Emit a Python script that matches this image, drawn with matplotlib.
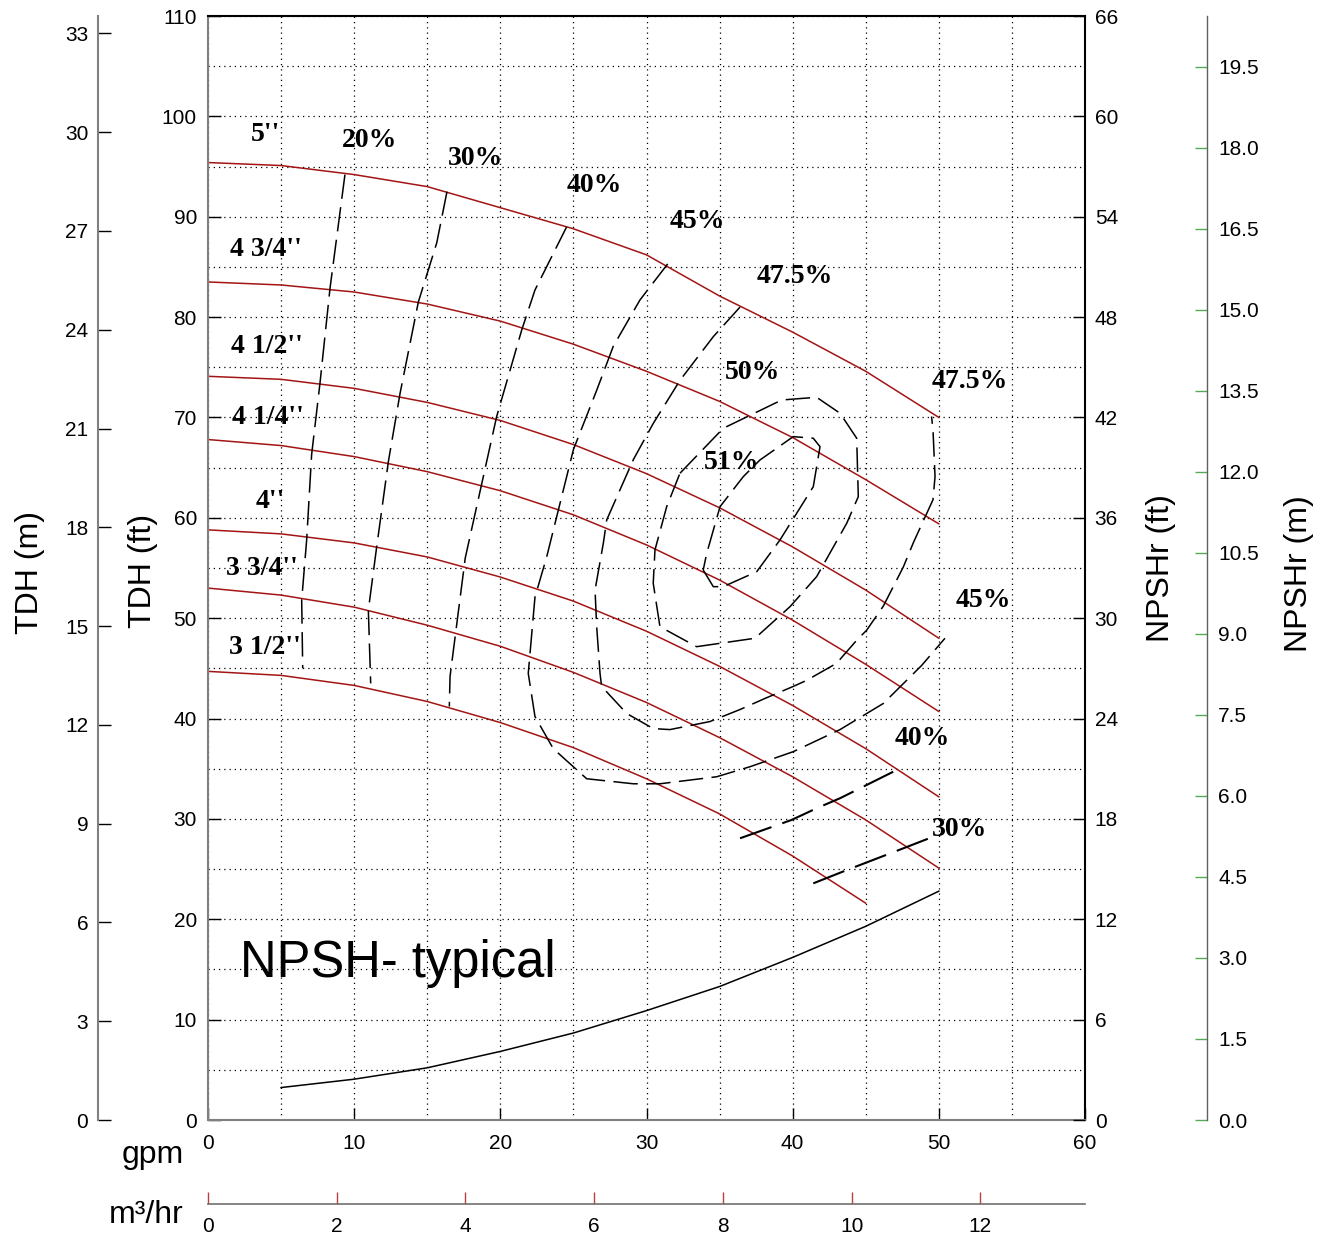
import matplotlib
matplotlib.use("Agg")
import matplotlib.pyplot as plt
import numpy as np

plt.rcParams['font.family'] = ['Liberation Sans', 'DejaVu Sans']

# impeller head curves, flow in gpm, head in ft
flow = [0, 5, 10, 15, 20, 25, 30, 35, 40, 45, 50]
head_5 = [95.4, 95.1, 94.2, 93.0, 90.9, 88.8, 86.2, 82.1, 78.5, 74.6, 70.0]
head_4_34 = [83.5, 83.2, 82.5, 81.3, 79.6, 77.3, 74.6, 71.6, 68.0, 63.8, 59.4]
head_4_12 = [74.1, 73.8, 72.9, 71.5, 69.7, 67.3, 64.4, 61.0, 57.1, 52.8, 48.0]
head_4_14 = [67.8, 67.2, 66.1, 64.6, 62.7, 60.3, 57.3, 53.8, 49.8, 45.4, 40.7]
head_4 = [58.8, 58.4, 57.5, 56.1, 54.1, 51.7, 48.7, 45.2, 41.3, 37.0, 32.2]
head_3_34 = [53.0, 52.3, 51.1, 49.3, 47.2, 44.6, 41.6, 38.1, 34.2, 29.9, 25.1]
flow_3_12 = [0, 5, 10, 15, 20, 25, 30, 35, 40, 45]
head_3_12 = [44.7, 44.3, 43.3, 41.7, 39.6, 37.1, 34.0, 30.5, 26.3, 21.6]

impellers = ["5''", "4 3/4''", "4 1/2''", "4 1/4''", "4''", "3 3/4''", "3 1/2''"]

# iso-efficiency lines (gpm, ft)
eff20_q = [9.37, 8.35, 7.66, 7.09, 6.75, 6.41, 6.48]
eff20_h = [94.2, 82.9, 73.4, 66.3, 57.8, 51.8, 45.0]
eff30_q = [16.35, 15.65, 14.39, 13.14, 12.34, 11.54, 10.97, 11.13]
eff30_h = [92.5, 87.4, 81.5, 72.4, 65.6, 57.1, 50.8, 43.5]
eff40_q = [24.54, 22.37, 21.46, 19.75, 17.6, 16.56, 16.51]
eff40_h = [89.0, 82.7, 78.7, 70.1, 56.0, 44.2, 41.2]
eff45_q = [31.45, 29.55, 27.73, 26.59, 25.0, 23.17, 22.37, 21.91, 22.37, 23.62,
           25.91, 29.1, 30.92, 34.8, 37.08, 40.04, 43.24, 46.2, 48.83, 50.42]
eff45_h = [85.3, 81.7, 77.1, 72.7, 66.8, 56.1, 52.1, 44.5, 40.2, 37.0,
           34.0, 33.5, 33.5, 34.2, 35.2, 36.7, 38.9, 41.5, 45.3, 48.0]
eff475_q = [36.4, 34.57, 32.29, 30.46, 29.1, 27.28, 27.05, 26.48, 26.59, 26.82,
            26.93, 28.65, 30.46, 31.6, 34.34, 36.4, 38.1, 40.04, 40.95, 43.0,
            44.38, 45.06, 46.2, 47.57, 48.25, 49.6, 49.74, 49.6, 49.5]
eff475_h = [81.0, 78.05, 73.7, 69.4, 65.8, 59.8, 57.5, 52.8, 49.2, 44.5,
            43.2, 40.5, 39.0, 38.9, 39.7, 40.9, 42.0, 43.2, 43.8, 45.5,
            47.8, 48.8, 51.2, 55.1, 57.5, 61.8, 64.1, 68.8, 70.1]
eff50_q = [32.29, 35.25, 39.25, 41.64, 43.24, 44.38, 44.49, 43.7, 41.64, 39.82,
           37.42, 33.43, 30.92, 30.46, 30.58, 31.38, 32.29]
eff50_h = [64.44, 68.92, 71.74, 72.01, 70.42, 67.93, 62.11, 59.46, 54.14, 51.15,
           48.0, 47.16, 49.15, 53.48, 56.8, 61.11, 64.44]
eff51_q = [33.88, 34.57, 35.25, 37.54, 39.13, 41.41, 41.87, 41.41, 40.04, 37.76,
           36.62, 35.03, 34.12, 33.88]
eff51_h = [54.8, 53.14, 53.14, 54.63, 57.79, 63.1, 67.09, 67.93, 68.09, 65.76,
           64.1, 61.11, 56.46, 54.8]
eff40r_q = [36.4, 39.93, 41.64, 43.24, 46.88]
eff40r_h = [28.07, 29.9, 31.06, 32.06, 34.7]
eff30r_q = [41.41, 43.7, 47.57, 49.62]
eff30r_h = [23.58, 24.9, 27.07, 28.23]

# NPSH required, ft
npsh_q = [5, 10, 15, 20, 25, 30, 35, 40, 45, 50]
npsh_ft = [1.94, 2.44, 3.12, 4.10, 5.20, 6.54, 7.98, 9.72, 11.58, 13.68]

W, H = 1330, 1239
fig = plt.figure(figsize=(W / 100, H / 100), dpi=100)
ax = fig.add_axes([208 / W, 119 / H, 877 / W, 1104 / H])
ax.set_xlim(0, 60)
ax.set_ylim(0, 110)

tick_font = 15
ax.set_xticks(np.arange(0, 61, 10))
ax.set_yticks(np.arange(0, 111, 10))
ax.set_xticks(np.arange(0, 61, 5), minor=True)
ax.set_yticks(np.arange(0, 111, 5), minor=True)
ax.grid(which='both', color='black', linestyle=(0, (1, 3.2)), linewidth=0.9)
ax.tick_params(which='minor', length=0)
ax.tick_params(which='major', direction='in', length=9, width=1.0,
               labelsize=tick_font, pad=8)
ax.tick_params(axis='x', pad=10)
ax.tick_params(right=False, top=False)
for side, col in [('left', '#808080'), ('bottom', '#808080'),
                  ('top', 'black'), ('right', 'black')]:
    ax.spines[side].set_color(col)
    ax.spines[side].set_linewidth(1.5)

red = '#a31515'
heads = [head_5, head_4_34, head_4_12, head_4_14, head_4, head_3_34]
for h in heads:
    ax.plot(flow, h, color=red, lw=1.1)
ax.plot(flow_3_12, head_3_12, color=red, lw=1.1)

dash = (0, (16, 5.5))
for q, h in [(eff20_q, eff20_h), (eff30_q, eff30_h), (eff40_q, eff40_h),
             (eff45_q, eff45_h), (eff475_q, eff475_h), (eff50_q, eff50_h),
             (eff51_q, eff51_h)]:
    ax.plot(q, h, color='black', lw=1.1, linestyle=dash)
for q, h in [(eff40r_q, eff40r_h), (eff30r_q, eff30r_h)]:
    ax.plot(q, h, color='black', lw=1.5, linestyle=dash)

serif = dict(family=['Liberation Serif', 'DejaVu Serif'], fontweight='bold',
             fontsize=20, ha='center', va='center')
imp_pos = [(3.90, 98.15), (3.97, 86.69), (4.04, 77.02), (4.10, 69.95),
           (4.24, 61.58), (3.69, 55.0), (3.90, 47.03)]
for name, (x, y) in zip(impellers, imp_pos):
    ax.text(x, y, name, **serif)

eff_labels = [("20%", 11.08, 97.55), ("30%", 18.33, 95.85), ("40%", 26.41, 93.07),
              ("45%", 33.45, 89.48), ("47.5%", 40.16, 84.0), ("50%", 37.22, 74.43),
              ("51%", 35.85, 65.56), ("47.5%", 52.13, 73.54), ("45%", 53.02, 51.81),
              ("40%", 48.85, 38.06), ("30%", 51.45, 28.9)]
for txt, x, y in eff_labels:
    ax.text(x, y, txt, **serif)

ax.text(2.19, 14.25, "NPSH- typical", fontsize=36.5, ha='left', va='baseline')

# NPSHr (ft) on the right spine
ax_nft = ax.twinx()
ax_nft.set_ylim(0, 66)
ax_nft.set_yticks(np.arange(0, 67, 6))
ax_nft.tick_params(direction='in', length=9, width=1.0, labelsize=tick_font, pad=7)
for s in ax_nft.spines.values():
    s.set_visible(False)
ax_nft.plot(npsh_q, npsh_ft, color='black', lw=1.1)

# TDH (m) axis at the far left
ax_m = ax.twinx()
ax_m.set_ylim(0, 110 * 0.3048)
ax_m.yaxis.tick_left()
ax_m.set_yticks(np.arange(0, 34, 3))
for s in ax_m.spines.values():
    s.set_visible(False)
ax_m.spines['left'].set_visible(True)
ax_m.spines['left'].set_position(('axes', -110 / 877))
ax_m.spines['left'].set_color('#808080')
ax_m.spines['left'].set_linewidth(1.5)
ax_m.tick_params(direction='in', length=9, width=1.0, labelsize=tick_font, pad=7)

# NPSHr (m) axis at the far right
ax_nm = ax.twinx()
ax_nm.set_ylim(0, 20.44)
ax_nm.set_yticks(np.arange(0, 20, 1.5))
ax_nm.set_yticklabels([f"{v:.1f}" for v in np.arange(0, 20, 1.5)])
for s in ax_nm.spines.values():
    s.set_visible(False)
ax_nm.spines['right'].set_visible(True)
ax_nm.spines['right'].set_position(('axes', 999 / 877))
ax_nm.spines['right'].set_color('#606060')
ax_nm.spines['right'].set_linewidth(1.0)
ax_nm.tick_params(direction='in', length=9, width=1.0, color='#55aa55',
                  labelsize=tick_font, pad=8)

# m3/hr axis below the gpm axis
ax_q = ax.twiny()
ax_q.set_xlim(0, 60 * 0.22712)
ax_q.xaxis.tick_bottom()
ax_q.set_xticks(np.arange(0, 13, 2))
for s in ax_q.spines.values():
    s.set_visible(False)
ax_q.spines['bottom'].set_visible(True)
ax_q.spines['bottom'].set_position(('axes', -84 / 1104))
ax_q.spines['bottom'].set_color('#707070')
ax_q.spines['bottom'].set_linewidth(1.2)
ax_q.tick_params(direction='in', length=9, width=1.0, color='#b84040',
                 labelsize=tick_font, pad=9)

lab = dict(fontsize=23)
fig.text(30 / W, 1 - 573 / H, "TDH (m)", rotation=90, ha='center', va='center', **lab)
fig.text(143 / W, 1 - 571 / H, "TDH (ft)", rotation=90, ha='center', va='center', **lab)
fig.text(1161 / W, 1 - 568 / H, "NPSHr (ft)", rotation=90, ha='center', va='center', **lab)
fig.text(1299 / W, 1 - 574 / H, "NPSHr (m)", rotation=90, ha='center', va='center', **lab)
fig.text(184 / W, 1 - 1163 / H, "gpm", ha='right', va='baseline', **lab)
fig.text(184 / W, 1 - 1223 / H, "m\u00b3/hr", ha='right', va='baseline', **lab)

fig.savefig("out.png", dpi=100)
